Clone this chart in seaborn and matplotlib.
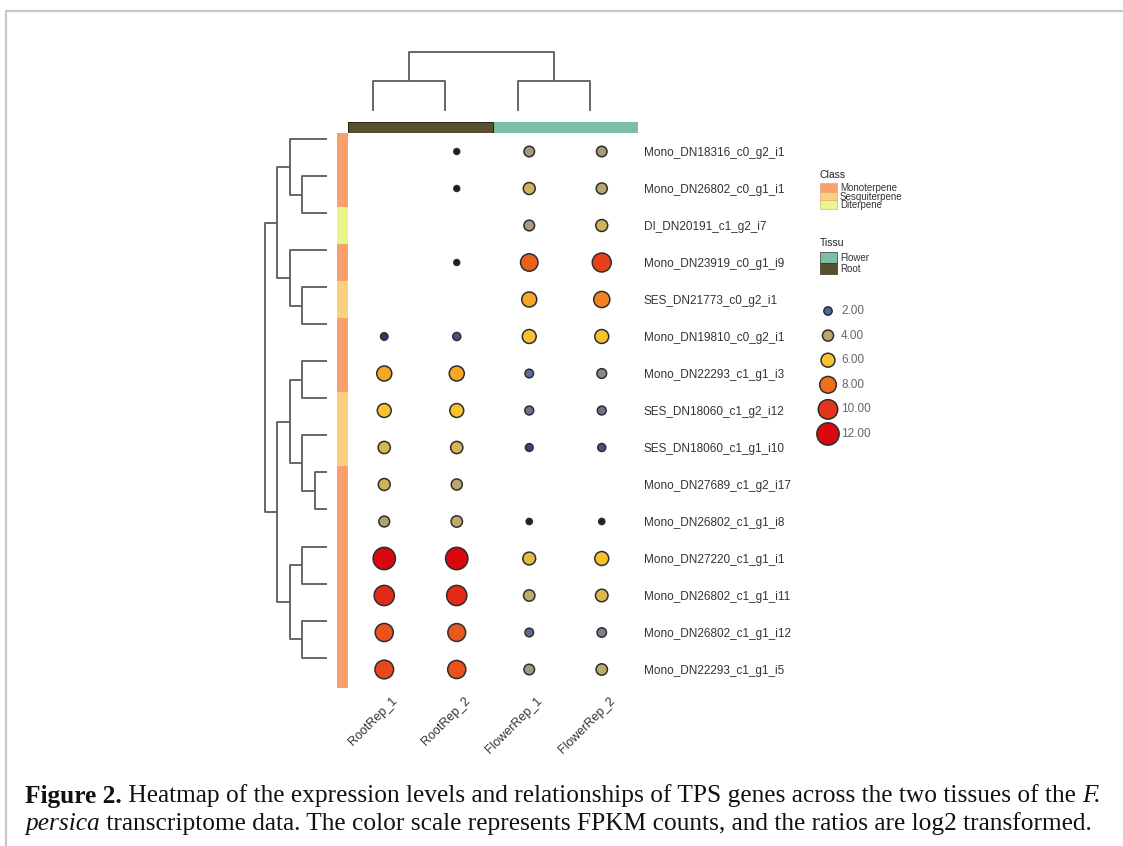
import numpy as np
import pandas as pd
import matplotlib.pyplot as plt
import seaborn as sns
from matplotlib.colors import LinearSegmentedColormap, ListedColormap
from matplotlib.patches import Rectangle

# ---- data ----
genes = ["Mono_DN18316_c0_g2_i1", "Mono_DN26802_c0_g1_i1", "DI_DN20191_c1_g2_i7",
         "Mono_DN23919_c0_g1_i9", "SES_DN21773_c0_g2_i1", "Mono_DN19810_c0_g2_i1",
         "Mono_DN22293_c1_g1_i3", "SES_DN18060_c1_g2_i12", "SES_DN18060_c1_g1_i10",
         "Mono_DN27689_c1_g2_i17", "Mono_DN26802_c1_g1_i8", "Mono_DN27220_c1_g1_i1",
         "Mono_DN26802_c1_g1_i11", "Mono_DN26802_c1_g1_i12", "Mono_DN22293_c1_g1_i5"]
gene_class = ["Monoterpene", "Monoterpene", "Diterpene", "Monoterpene", "Sesquiterpene",
              "Monoterpene", "Monoterpene", "Sesquiterpene", "Sesquiterpene", "Monoterpene",
              "Monoterpene", "Monoterpene", "Monoterpene", "Monoterpene", "Monoterpene"]
samples = ["RootRep_1", "RootRep_2", "FlowerRep_1", "FlowerRep_2"]
sample_tissue = ["Root", "Root", "Flower", "Flower"]

nan = np.nan
root_rep_1 = [nan, nan, nan, nan, nan, 1.4, 6.8, 6.0, 4.8, 4.6, 3.8, 12.0, 10.5, 9.0, 9.4]
root_rep_2 = [0.3, 0.3, nan, 0.3, nan, 1.8, 6.8, 6.0, 4.8, 4.0, 4.2, 12.0, 10.5, 8.8, 9.0]
flower_rep_1 = [3.6, 4.6, 3.7, 8.5, 6.8, 6.0, 2.2, 2.4, 1.6, nan, 0.5, 5.2, 4.2, 2.2, 3.6]
flower_rep_2 = [3.6, 4.0, 4.6, 9.6, 7.6, 6.0, 3.0, 2.4, 1.8, nan, 0.5, 6.0, 5.0, 2.8, 4.2]

legend_values = [2, 4, 6, 8, 10, 12]
class_names = ["Monoterpene", "Sesquiterpene", "Diterpene"]
class_colors = ["#f9a06c", "#f9cf80", "#eaf68c"]
tissue_names = ["Flower", "Root"]
tissue_colors = ["#7cbea6", "#5a4f2e"]

# tree structure: (merge height, left, right); leaves are row / column indices
row_tree = (5,
            (4, (3, 0, (2, 1, 2)), (3, 3, (2, 4, 5))),
            (4, (3, (2, 6, 7), (2, 8, (1, 9, 10))), (3, (2, 11, 12), (2, 13, 14))))
col_tree = (2, (1, 0, 1), (1, 2, 3))

dot_cmap = LinearSegmentedColormap.from_list("fpkm", [
    (0 / 12, "#121226"), (1.5 / 12, "#2f3a72"), (2 / 12, "#56669c"), (3 / 12, "#8a8a8a"),
    (4 / 12, "#b8a76e"), (5 / 12, "#dcbb4c"), (6 / 12, "#f9c22d"), (7 / 12, "#f7a024"),
    (8 / 12, "#ef6f1c"), (10 / 12, "#e6361a"), (12 / 12, "#d8080e")])

W, H = 1123, 846
sns.set_style("white")
plt.rcParams["font.family"] = ["Liberation Sans", "DejaVu Sans"]

fig = plt.figure(figsize=(W / 100, H / 100), dpi=100)


def px_axes(x0, y0, x1, y1):
    return fig.add_axes([x0 / W, 1 - y1 / H, (x1 - x0) / W, (y1 - y0) / H])


def dot_area(v):
    # dot diameter grows linearly with the value (px -> pt^2)
    return ((5.5 + 1.4 * np.asarray(v, dtype=float)) * 0.72) ** 2


def draw_tree(ax, node, vertical, color="#5c5c5c"):
    if not isinstance(node, tuple):
        return float(node), 0.0
    h, left, right = node
    p1, h1 = draw_tree(ax, left, vertical, color)
    p2, h2 = draw_tree(ax, right, vertical, color)
    pos = [p1, p1, p2, p2]
    hts = [h1, h, h, h2]
    if vertical:
        ax.plot(pos, hts, color=color, lw=1.3, clip_on=False, solid_capstyle="butt")
    else:
        ax.plot(hts, pos, color=color, lw=1.3, clip_on=False, solid_capstyle="butt")
    return (p1 + p2) / 2, h


# background / frame / legends / caption layer
bg = px_axes(0, 0, W, H)
bg.set_xlim(0, W)
bg.set_ylim(H, 0)
bg.axis("off")
bg.plot([6, 6, W], [H, 11, 11], color="#c8c8c8", lw=1.6)

# ---- dot matrix ----
wide = pd.DataFrame({"RootRep_1": root_rep_1, "RootRep_2": root_rep_2,
                     "FlowerRep_1": flower_rep_1, "FlowerRep_2": flower_rep_2}, index=genes)
long = wide.reset_index(names="gene").melt(id_vars="gene", var_name="sample", value_name="value")
long = long.dropna()
long["row"] = long["gene"].map({g: i for i, g in enumerate(genes)})
long["col"] = long["sample"].map({s: i for i, s in enumerate(samples)})
long["area"] = dot_area(long["value"])
amin, amax = long["area"].min(), long["area"].max()

ax = px_axes(348, 133, 638, 688)
sns.scatterplot(data=long, x="col", y="row", hue="value", palette=dot_cmap, hue_norm=(0, 12),
                size="area", sizes=(amin, amax), size_norm=(amin, amax),
                edgecolor="#2e2e2e", linewidth=1.1, legend=False, ax=ax)
ax.set_xlim(-0.5, len(samples) - 0.5)
ax.set_ylim(len(genes) - 0.5, -0.5)
sns.despine(ax=ax, left=True, bottom=True)
ax.set_xlabel("")
ax.set_ylabel("")
ax.yaxis.tick_right()
ax.set_yticks(range(len(genes)))
ax.set_yticklabels(genes, fontsize=8.5, color="#333333")
ax.tick_params(axis="y", length=0, pad=4)
ax.set_xticks([])
for i, s in enumerate(samples):
    ax.text(i + 0.1, -0.012, s, transform=ax.get_xaxis_transform(), rotation=45,
            rotation_mode="anchor", ha="right", va="top", fontsize=9, color="#333333")

# ---- annotation bars ----
ax_rbar = px_axes(337, 133, 348, 688)
sns.heatmap(np.array([[class_names.index(c)] for c in gene_class]), cmap=ListedColormap(class_colors),
            vmin=-0.5, vmax=2.5, cbar=False, xticklabels=False, yticklabels=False, ax=ax_rbar)

ax_cbar = px_axes(348, 122, 638, 133)
sns.heatmap(np.array([[tissue_names.index(t) for t in sample_tissue]]), cmap=ListedColormap(tissue_colors),
            vmin=-0.5, vmax=1.5, cbar=False, xticklabels=False, yticklabels=False, ax=ax_cbar)
ax_cbar.add_patch(Rectangle((0, 0), 2, 1, fill=False, edgecolor="#2e2814", lw=0.8))

# ---- dendrograms ----
ax_ctree = px_axes(336.5, 52, 626.5, 111)
ax_ctree.set_xlim(-0.5, len(samples) - 0.5)
ax_ctree.set_ylim(0, 2)
ax_ctree.axis("off")
draw_tree(ax_ctree, col_tree, vertical=True)

ax_rtree = px_axes(264.5, 121, 327, 676)
ax_rtree.set_ylim(len(genes) - 0.5, -0.5)
ax_rtree.set_xlim(5, 0)
ax_rtree.axis("off")
draw_tree(ax_rtree, row_tree, vertical=False)

# ---- legends ----
bg.text(820, 175, "Class", fontsize=7.5, color="#222222", va="center")
for i, (name, col) in enumerate(zip(class_names, class_colors)):
    y0 = 183.5 + i * 8.5
    bg.add_patch(Rectangle((820, y0), 17, 8.5, facecolor=col, edgecolor="#d9a070", lw=0.4))
    bg.text(840, y0 + 4.5, name, fontsize=7, color="#333333", va="center")

bg.text(820, 243, "Tissu", fontsize=7.5, color="#222222", va="center")
for i, (name, col) in enumerate(zip(tissue_names, tissue_colors)):
    y0 = 252.5 + i * 11
    bg.add_patch(Rectangle((820, y0), 17, 11, facecolor=col, edgecolor="#3a3420", lw=0.5))
    bg.text(840, y0 + 5.5, name, fontsize=7, color="#333333", va="center")

leg = pd.DataFrame({"value": legend_values})
leg["x"] = 828
leg["y"] = 311 + np.arange(len(legend_values)) * 24.6
leg["area"] = dot_area(leg["value"])
sns.scatterplot(data=leg, x="x", y="y", hue="value", palette=dot_cmap, hue_norm=(0, 12),
                size="area", sizes=(leg["area"].min(), leg["area"].max()),
                size_norm=(leg["area"].min(), leg["area"].max()),
                edgecolor="#2e2e2e", linewidth=1.1, legend=False, ax=bg)
bg.set_xlim(0, W)
bg.set_ylim(H, 0)
bg.set_xlabel("")
bg.set_ylabel("")
for v, y in zip(leg["value"], leg["y"]):
    bg.text(841, y, f"{v:.2f}", fontsize=8.5, color="#666666", va="center")

# ---- caption ----
renderer = fig.canvas.get_renderer()
serif = ["Liberation Serif", "DejaVu Serif"]
caption = [
    (25, 796, [("Figure 2.", "bold", "normal"),
               (" Heatmap of the expression levels and relationships of TPS genes across the two tissues of the ", "normal", "normal"),
               ("F.", "normal", "italic")]),
    (25, 824, [("persica", "normal", "italic"),
               (" transcriptome data. The color scale represents FPKM counts, and the ratios are log2 transformed.", "normal", "normal")]),
]
for x, y, pieces in caption:
    for txt, weight, style in pieces:
        t = bg.text(x, y, txt, fontsize=18.3, family=serif, weight=weight, style=style,
                    color="#111111", va="center", ha="left")
        x += t.get_window_extent(renderer).width

fig.savefig("out.png", dpi=100)
